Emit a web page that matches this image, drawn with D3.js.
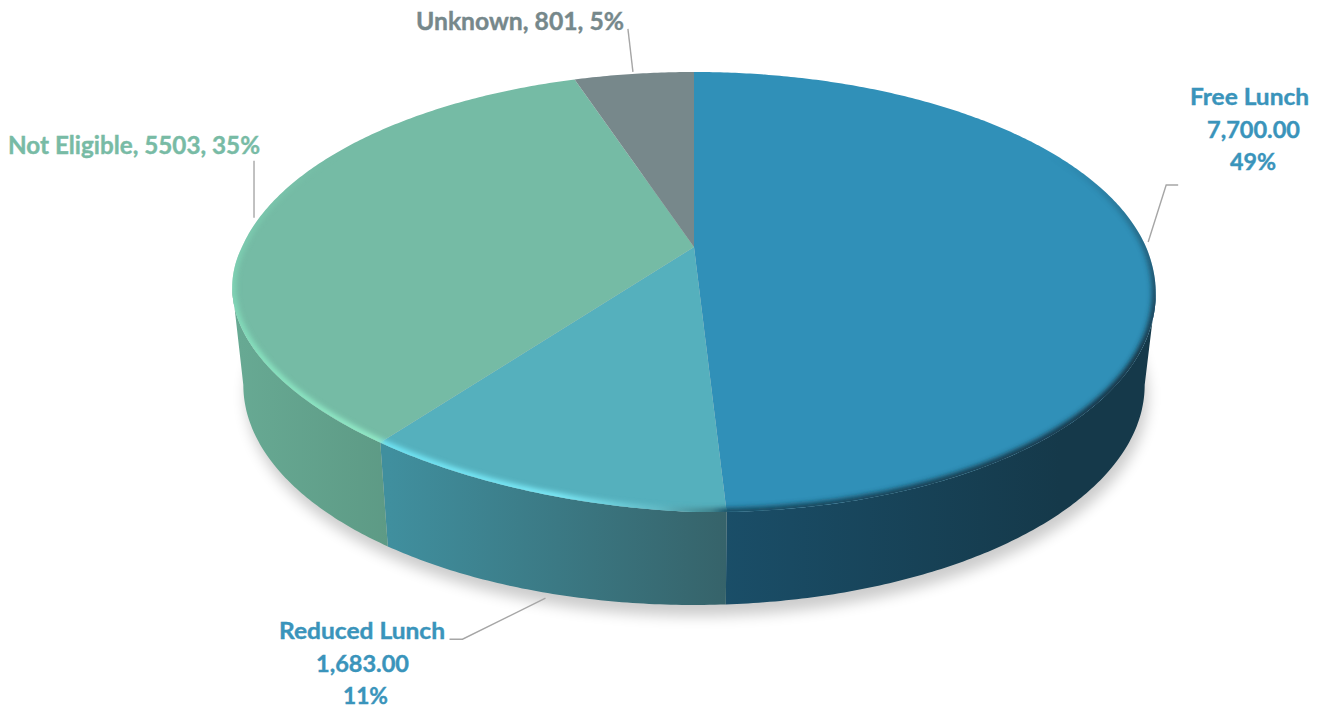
<!DOCTYPE html>
<html lang="en">

<head>
    <meta charset="UTF-8" />
    <title>Lunch Eligibility Pie</title>
    <script src="https://d3js.org/d3.v7.min.js"></script>
    <style>
        body {
            margin: 0;
            background: #fff;
        }

        text {
            font-family: Lato, "Open Sans", sans-serif;
            font-weight: 700;
            font-size: 23px;
            text-anchor: middle;
            stroke-width: 0.4px;
        }

        .leader {
            fill: none;
            stroke: #a6a6a6;
            stroke-width: 1.4px;
        }
    </style>
</head>

<body>
    <div id="chart"></div>

    <script>
        const categories = ["Free Lunch", "Reduced Lunch", "Not Eligible", "Unknown"];
        const values = [7700, 1683, 5503, 801];
        const percents = ["49%", "11%", "35%", "5%"];
        const valueLabels = ["7,700.00", "1,683.00", "5503", "801"];

        const topColors = ["#3090b8", "#55b0bd", "#75bba5", "#77888b"];
        const wallColors = [
            ["#1a4e68", "#15394a"],
            ["#408f9e", "#36636a"],
            ["#67a993", "#5d9a85"],
            ["#55666a", "#55666a"]
        ];
        const labelColors = ["#3a94bb", "#3a94bb", "#78bba5", "#76888b"];

        const width = 1317, height = 710;

        // the pie is tilted, so the centre of the slices is not the centre of the ellipse
        const tilt = 0.2045, wallDepth = 93, wallShrink = 0.976;

        const xScale = d3.scaleLinear().domain([-1, 1]).range([694 - 452, 694 + 452]);
        const yScale = d3.scaleLinear().domain([-1, 1]).range([247 - 210.8, 247 + 210.8]);

        function project(angle, depth = 0) {
            const u = Math.sin(angle), v = -Math.cos(angle);
            const w = 1 - tilt * v;
            const shrink = depth ? wallShrink : 1;
            // front edge of the top face sits a bit higher than a plain ellipse, more so on the left
            const lift = depth ? 0 : Math.max(v, 0) * (15.6 * u - 7.3 * Math.abs(u));
            return [
                xScale(0) + (xScale(u / w) - xScale(0)) * shrink,
                yScale(v / w) + depth * wallDepth + lift
            ];
        }

        function arcPoints(a0, a1, depth = 0) {
            const n = Math.max(2, Math.ceil(Math.abs(a1 - a0) / 0.01));
            return d3.range(n + 1).map(i => project(a0 + (a1 - a0) * i / n, depth));
        }

        const line = d3.line();
        const pie = d3.pie().sort(null).value(d => d)(values);

        // only this part of the wall faces the viewer
        const wallStart = Math.acos(-tilt), wallEnd = 2 * Math.PI - wallStart;

        const svg = d3.select("#chart")
            .append("svg")
            .attr("width", width)
            .attr("height", height)
            .style("display", "block");

        const defs = svg.append("defs");

        [["blur6", 7], ["blur2", 2.4]].forEach(([id, dev]) => {
            defs.append("filter")
                .attr("id", id)
                .attr("x", "-10%").attr("y", "-10%")
                .attr("width", "120%").attr("height", "120%")
                .append("feGaussianBlur")
                .attr("stdDeviation", dev);
        });

        // side wall gradients, one per slice
        const wallRange = [[725, 1060], [390, 725], [240, 390], [575, 694]];
        wallColors.forEach((c, i) => {
            const g = defs.append("linearGradient")
                .attr("id", `wall${i}`)
                .attr("gradientUnits", "userSpaceOnUse")
                .attr("x1", wallRange[i][0]).attr("x2", wallRange[i][1])
                .attr("y1", 0).attr("y2", 0);
            g.append("stop").attr("offset", 0).attr("stop-color", c[0]);
            g.append("stop").attr("offset", 1).attr("stop-color", c[1]);
        });

        // rim highlight along the front edge of the top face
        const rimStops = [
            [232, "#84dfbc"], [380, "#93ebc8"], [384, "#6fe3f3"], [560, "#7be8f6"],
            [660, "#62b9c4"], [712, "#3f7f88"], [727, "#174a60"], [1157, "#122f3f"]
        ];
        const rimGrad = defs.append("linearGradient")
            .attr("id", "rimGrad")
            .attr("gradientUnits", "userSpaceOnUse")
            .attr("x1", 232).attr("x2", 1157)
            .attr("y1", 0).attr("y2", 0);
        rimStops.forEach(([x, c]) => {
            rimGrad.append("stop").attr("offset", (x - 232) / (1157 - 232)).attr("stop-color", c);
        });

        const fade = defs.append("linearGradient")
            .attr("id", "rimFade")
            .attr("x1", 0).attr("x2", 0).attr("y1", 0).attr("y2", 1);
        fade.append("stop").attr("offset", 0.22).attr("stop-color", "#000");
        fade.append("stop").attr("offset", 0.5).attr("stop-color", "#fff");

        const fullCircle = arcPoints(0, 2 * Math.PI);

        defs.append("clipPath").attr("id", "topClip")
            .append("path").attr("d", line(fullCircle) + "Z");

        defs.append("mask").attr("id", "rimMask")
            .attr("maskUnits", "userSpaceOnUse")
            .attr("x", 0).attr("y", 0).attr("width", width).attr("height", height)
            .append("rect")
            .attr("width", width).attr("height", height)
            .attr("fill", "url(#rimFade)");

        // soft shadow on the ground
        svg.append("path")
            .attr("d", line(arcPoints(0, 2 * Math.PI, 1)) + "Z")
            .attr("transform", "translate(3,11)")
            .attr("fill", "#000")
            .attr("opacity", 0.2)
            .attr("filter", "url(#blur6)");

        // side walls
        svg.selectAll(".wall")
            .data(pie.filter(d => d.startAngle < wallEnd))
            .enter().append("path")
            .attr("class", "wall")
            .attr("d", d => {
                const a0 = Math.max(d.startAngle, wallStart), a1 = Math.min(d.endAngle, wallEnd);
                return line(arcPoints(a0, a1).concat(arcPoints(a1, a0, 1))) + "Z";
            })
            .attr("fill", d => `url(#wall${d.index})`);

        // top faces
        svg.selectAll(".slice")
            .data(pie)
            .enter().append("path")
            .attr("class", "slice")
            .attr("d", d => line([[xScale(0), yScale(0)]].concat(arcPoints(d.startAngle, d.endAngle))) + "Z")
            .attr("fill", (d, i) => topColors[i]);

        svg.append("g")
            .attr("clip-path", "url(#topClip)")
            .append("g")
            .attr("mask", "url(#rimMask)")
            .append("path")
            .attr("d", line(fullCircle) + "Z")
            .attr("fill", "none")
            .attr("stroke", "url(#rimGrad)")
            .attr("stroke-width", 8)
            .attr("filter", "url(#blur2)");

        // leader lines: start near the edge at the slice's mid angle, then elbow to the label
        const leaderDepth = [0, 1, 0, 0];
        const leaderStart = [[5, 1], [3, 6], [-6, 1], [-1, -2]];
        const leaderElbows = [
            [[18, -57], [30, -57]],
            [[-83, 41], [-96, 41]],
            [[0, -57]],
            [[-5, -43]]
        ];

        svg.selectAll(".leader")
            .data(pie)
            .enter().append("path")
            .attr("class", "leader")
            .attr("d", (d, i) => {
                const m = project((d.startAngle + d.endAngle) / 2, leaderDepth[i]);
                const p = [m[0] + leaderStart[i][0], m[1] + leaderStart[i][1]];
                return line([p].concat(leaderElbows[i].map(e => [p[0] + e[0], p[1] + e[1]])));
            });

        // labels, [text, centre x, baseline y, width, font size]
        const labelRows = [
            [[categories[0], 1249.5, 105, 119, 23], [valueLabels[0], 1253.5, 138, 93, 23], [percents[0], 1253, 170, 46, 23]],
            [[categories[1], 362, 639, 166, 23], [valueLabels[1], 362.5, 672, 93, 23], [percents[1], 365.5, 704, 45, 23]],
            [[`${categories[2]}, ${valueLabels[2]}, ${percents[2]}`, 134, 154, 252, 25]],
            [[`${categories[3]}, ${valueLabels[3]}, ${percents[3]}`, 520, 30, 208, 25]]
        ];

        labelRows.forEach((rows, i) => {
            rows.forEach(([t, x, y, w, size]) => {
                svg.append("text")
                    .attr("x", x)
                    .attr("y", y)
                    .attr("textLength", w)
                    .attr("lengthAdjust", "spacingAndGlyphs")
                    .attr("fill", labelColors[i])
                    .attr("stroke", labelColors[i])
                    .style("font-size", `${size}px`)
                    .text(t);
            });
        });
    </script>
</body>

</html>
